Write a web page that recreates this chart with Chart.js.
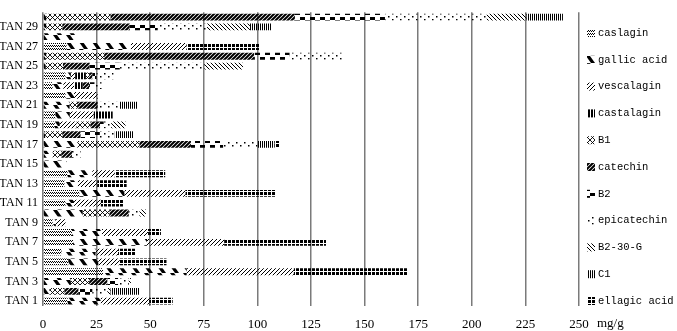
<!DOCTYPE html>
<html>
<head>
<meta charset="utf-8">
<script src="https://cdn.jsdelivr.net/npm/chart.js@4"></script>
<style>
  html, body { margin: 0; padding: 0; background: #fff; }
  canvas { display: block; }
</style>
</head>
<body>
<canvas id="chart" width="677" height="331"></canvas>
<script>
// TAN 1 .. TAN 30 (TAN 1 at bottom)
const samples = Array.from({ length: 30 }, (_, i) => 'TAN ' + (i + 1));

const xTicks = [0, 25, 50, 75, 100, 125, 150, 175, 200, 225, 250];

// mg/g per compound, TAN 1 .. TAN 30
const caslagin    = [11.5, 0, 0, 28, 11.8, 8.5, 14, 13.5, 4.5, 0, 10.5, 17, 10, 11.5, 0, 0, 0, 0, 5.5, 5.8, 0, 10.5, 4.5, 10.5, 0, 0, 11, 0, 0, 0];
const gallicAcid  = [15.5, 3, 13, 39, 14, 16, 34.5, 14, 1.5, 18.5, 4, 21, 6.3, 11.5, 11, 4.5, 16, 1, 2.3, 6.7, 12.4, 4, 5, 2.5, 1.3, 1.5, 30, 15, 1.5, 1.5];
const vescalagin  = [22.5, 0, 0, 50, 10, 10.5, 36, 21.5, 4.5, 0, 12.5, 28.5, 9, 10.5, 0, 0, 0, 0, 7.8, 11.2, 0, 11, 5, 2, 0, 0, 26, 0, 0, 0];
const castalagin  = [0, 0, 0, 0, 0, 0, 0, 0, 0, 0, 0, 0, 0, 0, 0, 0, 0, 0, 0, 8.8, 0, 0, 4, 5, 0, 0, 0, 0, 0, 0];
const b1          = [0, 7, 8.5, 0, 0, 0, 0, 0, 0, 12.5, 0, 0, 0, 0, 0, 4, 29, 8, 6.5, 0, 3.5, 0, 0, 1.5, 8, 27, 0, 0, 7.5, 30];
const catechin    = [0, 6.5, 8.5, 0, 0, 0, 0, 0, 0, 9, 0, 0, 0, 0, 0, 5, 24, 8.5, 4.5, 0, 9.6, 0, 3, 1.5, 12.5, 70, 0, 0, 31.5, 86];
const b2          = [0, 6.5, 5, 0, 0, 0, 0, 0, 0, 0, 0, 0, 0, 0, 0, 0, 15, 9, 1.7, 0, 0, 0, 2.5, 2, 14, 16.5, 0, 0, 13, 42];
const epicatechin = [0, 7, 5, 0, 0, 0, 0, 0, 0, 5, 0, 0, 0, 0, 0, 4, 16, 7, 3.5, 0, 10.2, 0.5, 4, 8, 39.5, 25, 0, 0, 23, 47.5];
const b2_30_g     = [0, 1.5, 1, 0, 0, 0, 0, 0, 0, 3, 0, 0, 0, 0, 0, 0, 0, 0, 6.7, 0, 0, 0, 0, 0, 18, 0, 0, 0, 20, 18.5];
const c1          = [0, 13.5, 0, 0, 0, 0, 0, 0, 0, 0, 0, 0, 0, 0, 0, 0, 8, 8.5, 0, 0, 8.6, 0, 0, 0, 0, 0, 0, 0, 10, 17];
const ellagicAcid = [11, 0, 0, 53, 21.8, 8, 47.5, 6, 0, 0, 10.3, 42, 13.7, 23.5, 0, 0, 2.5, 0, 0, 0, 0, 0, 0, 0, 0, 0, 34, 0, 0, 0];

const seriesNames = ['caslagin', 'gallic acid', 'vescalagin', 'castalagin', 'B1', 'catechin',
  'B2', 'epicatechin', 'B2-30-G', 'C1', 'ellagic acid'];
const seriesData = [caslagin, gallicAcid, vescalagin, castalagin, b1, catechin,
  b2, epicatechin, b2_30_g, c1, ellagicAcid];

// ── motifs noir et blanc ──
function motif(w, h, draw) {
  const c = document.createElement('canvas');
  c.width = w; c.height = h;
  const g = c.getContext('2d');
  g.fillStyle = '#000'; g.strokeStyle = '#000';
  draw(g, w, h);
  return g.createPattern(c, 'repeat');
}
function line(g, x1, y1, x2, y2, lw) {
  g.lineWidth = lw; g.beginPath(); g.moveTo(x1, y1); g.lineTo(x2, y2); g.stroke();
}

const PATTERNS = [
  // caslagin : petit damier pointillé
  motif(4, 3, g => { g.fillRect(0, 0, 1, 1); g.fillRect(2, 0, 1, 1); g.fillRect(1, 1, 1, 1); g.fillRect(3, 1, 1, 1); }),
  // gallic acid : gros traits "\"
  motif(13, 7, g => { g.beginPath(); g.moveTo(1, 0); g.lineTo(5, 0); g.lineTo(10, 7); g.lineTo(6, 7); g.closePath(); g.fill(); }),
  // vescalagin : fines "/"
  motif(4, 4, g => { line(g, -1, 5, 5, -1, 1); line(g, -1, 1, 1, -1, 1); line(g, 3, 5, 5, 3, 1); }),
  // castalagin : barres verticales serrées
  motif(3, 1, g => { g.fillRect(0, 0, 2, 1); }),
  // B1 : quadrillage en x
  motif(5, 5, g => { line(g, 0, 0, 5, 5, 0.9); line(g, 0, 5, 5, 0, 0.9); }),
  // catechin : "/" épais
  motif(4, 4, g => { line(g, -1, 5, 5, -1, 2); line(g, -1, 1, 1, -1, 2); line(g, 3, 5, 5, 3, 2); }),
  // B2 : blocs alternés
  motif(10, 8, g => { g.fillRect(0, 1, 5, 3); g.fillRect(5, 4, 5, 3); }),
  // epicatechin : points espacés
  motif(8, 6, g => { g.fillRect(0, 1, 1.5, 1.5); g.fillRect(4, 4, 1.5, 1.5); }),
  // B2-30-G : fines "\"
  motif(4, 4, g => { line(g, -1, -1, 5, 5, 1); line(g, 3, -1, 5, 1, 1); line(g, -1, 3, 1, 5, 1); }),
  // C1 : lignes verticales
  motif(2, 1, g => { g.fillRect(0, 0, 1, 1); }),
  // ellagic acid : carrés noirs
  motif(4, 4, g => { g.fillRect(0, 0, 3, 3); }),
];

const datasets = seriesNames.map((name, i) => ({
  label: name,
  data: seriesData[i],
  backgroundColor: PATTERNS[i],
  borderWidth: 0,
  categoryPercentage: 1,
  barPercentage: 0.7,
}));

// légende + unité dessinées à droite
const legendPlugin = {
  id: 'sideLegend',
  afterDraw(chart) {
    const ctx = chart.ctx;
    ctx.save();
    ctx.textBaseline = 'middle';
    ctx.textAlign = 'left';
    ctx.fillStyle = '#000';
    ctx.font = '10.5px "Liberation Mono", monospace';
    seriesNames.forEach((name, i) => {
      const y = 33 + i * 26.8;
      ctx.fillStyle = PATTERNS[i];
      ctx.fillRect(587, y - 4, 8, 8);
      ctx.fillStyle = '#000';
      ctx.fillText(name, 598, y);
    });
    ctx.font = '13px "Liberation Serif", serif';
    ctx.fillText('mg/g', 597, 324);
    ctx.restore();
  },
};

new Chart(document.getElementById('chart'), {
  type: 'bar',
  data: { labels: samples, datasets },
  options: {
    indexAxis: 'y',
    responsive: false,
    animation: false,
    layout: { padding: { top: 1, right: 98, left: 0, bottom: 0 } },
    plugins: { legend: { display: false }, tooltip: { enabled: false } },
    scales: {
      x: {
        stacked: true,
        min: 0, max: 250,
        afterBuildTicks: s => { s.ticks = xTicks.map(v => ({ value: v })); },
        afterFit: s => { s.height = 25; },
        grid: { color: '#7a7a7a', lineWidth: 1.5, drawTicks: false },
        border: { display: false },
        ticks: { color: '#000', padding: 11, font: { family: '"Liberation Serif", serif', size: 13 } },
      },
      y: {
        stacked: true,
        reverse: true,
        afterFit: s => { s.width = 43; },
        grid: { display: false, drawTicks: false },
        border: { display: false },
        ticks: {
          autoSkip: false,
          color: '#000',
          padding: 5,
          font: { family: '"Liberation Serif", serif', size: 12 },
          callback(val, idx) { return idx % 2 === 0 ? this.getLabelForValue(val) : ''; },
        },
      },
    },
  },
  plugins: [legendPlugin],
});
</script>
</body>
</html>
